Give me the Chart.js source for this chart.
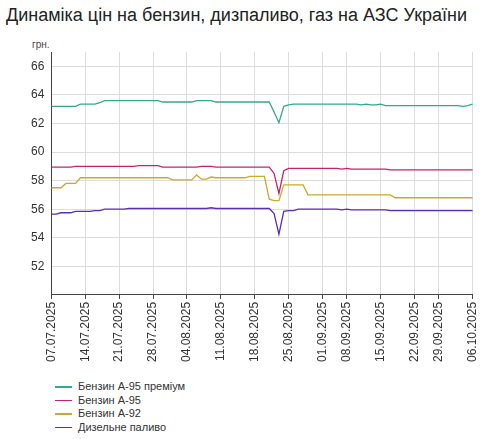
<!DOCTYPE html>
<html><head><meta charset="utf-8">
<script src="https://cdn.jsdelivr.net/npm/chart.js@4"></script>
<style>
body{margin:0;background:#fff;font-family:"Liberation Sans",Arial,sans-serif;}
#wrap{position:relative;width:490px;height:439px;}
#title{position:absolute;left:6px;top:5px;font-size:18px;color:#222;}
#unit{position:absolute;left:32px;top:39px;font-size:10px;color:#444;}
#cv{position:absolute;left:0;top:30px;}
#legend{position:absolute;left:55px;top:380px;font-size:11px;color:#333;line-height:13.5px;}
#legend span.l{display:inline-block;width:17px;height:1.5px;margin-right:6px;vertical-align:middle;}
</style></head>
<body><div id="wrap">
<div id="title">Динаміка цін на бензин, дизпаливо, газ на АЗС України</div>
<div id="unit">грн.</div>
<canvas id="cv" width="490" height="335"></canvas>
<div id="legend"></div>
</div>
<script>
// дні без даних (вихідні), решта — щоденно з 07.07.2025 по 06.10.2025
const skipDays = ['06.09', '07.09', '27.09', '28.09'];
const tickLabels = ['07.07.2025','14.07.2025','21.07.2025','28.07.2025','04.08.2025','11.08.2025','18.08.2025','25.08.2025','01.09.2025','08.09.2025','15.09.2025','22.09.2025','29.09.2025','06.10.2025'];
const seriesNames = ['Бензин А-95 преміум', 'Бензин А-95', 'Бензин А-92', 'Дизельне паливо'];
const seriesColors = ['#35a88c', '#c2246a', '#c9a92e', '#5a2fb0'];

const a95p = [63.2,63.2,63.2,63.2,63.2,63.2,63.35,63.35,63.35,63.35,63.45,63.6,63.6,63.6,63.6,63.6,63.6,63.6,63.6,63.6,63.6,63.6,63.6,63.5,63.5,63.5,63.5,63.5,63.5,63.5,63.6,63.6,63.6,63.6,63.5,63.5,63.5,63.5,63.5,63.5,63.5,63.5,63.5,63.5,63.5,63.5,62.8,62.05,63.2,63.3,63.35,63.35,63.35,63.35,63.35,63.35,63.35,63.35,63.35,63.35,63.35,63.35,63.35,63.35,63.3,63.35,63.3,63.3,63.35,63.25,63.25,63.25,63.25,63.25,63.25,63.25,63.25,63.25,63.25,63.25,63.25,63.25,63.25,63.25,63.25,63.2,63.25,63.35];
const a95 = [58.95,58.95,58.95,58.95,58.95,59.0,59.0,59.0,59.0,59.0,59.0,59.0,59.0,59.0,59.0,59.0,59.0,59.0,59.05,59.05,59.05,59.05,59.05,58.95,58.95,58.95,58.95,58.95,58.95,58.95,58.95,59.0,59.0,59.0,58.95,58.95,58.95,58.95,58.95,58.95,58.95,58.95,58.95,58.95,58.95,58.95,58.5,57.1,58.7,58.85,58.85,58.85,58.85,58.85,58.85,58.85,58.85,58.85,58.85,58.85,58.8,58.85,58.8,58.8,58.8,58.8,58.8,58.8,58.8,58.8,58.75,58.75,58.75,58.75,58.75,58.75,58.75,58.75,58.75,58.75,58.75,58.75,58.75,58.75,58.75,58.75,58.75,58.75];
const a92 = [57.5,57.5,57.5,57.8,57.8,57.8,58.2,58.2,58.2,58.2,58.2,58.2,58.2,58.2,58.2,58.2,58.2,58.2,58.2,58.2,58.2,58.2,58.2,58.2,58.2,58.05,58.05,58.05,58.05,58.05,58.4,58.1,58.1,58.25,58.2,58.2,58.2,58.2,58.2,58.2,58.2,58.3,58.3,58.3,58.3,56.7,56.6,56.6,57.7,57.7,57.7,57.7,57.7,57.0,57.0,57.0,57.0,57.0,57.0,57.0,57.0,57.0,57.0,57.0,57.0,57.0,57.0,57.0,57.0,57.0,57.0,56.8,56.8,56.8,56.8,56.8,56.8,56.8,56.8,56.8,56.8,56.8,56.8,56.8,56.8,56.8,56.8,56.8];
const diesel = [55.65,55.65,55.75,55.75,55.75,55.85,55.85,55.85,55.85,55.9,55.9,56.0,56.0,56.0,56.0,56.0,56.05,56.05,56.05,56.05,56.05,56.05,56.05,56.05,56.05,56.05,56.05,56.05,56.05,56.05,56.05,56.05,56.05,56.1,56.05,56.05,56.05,56.05,56.05,56.05,56.05,56.05,56.05,56.05,56.05,56.05,55.7,54.25,55.85,55.9,55.9,56.0,56.0,56.0,56.0,56.0,56.0,56.0,56.0,56.0,55.95,56.0,55.95,55.95,55.95,55.95,55.95,55.95,55.95,55.95,55.9,55.9,55.9,55.9,55.9,55.9,55.9,55.9,55.9,55.9,55.9,55.9,55.9,55.9,55.9,55.9,55.9,55.9];

function buildDates() {
    const out = [];
    const d = new Date(2025, 6, 7);
    const end = new Date(2025, 9, 6);
    while (d <= end) {
        const dd = String(d.getDate()).padStart(2, '0');
        const mm = String(d.getMonth() + 1).padStart(2, '0');
        if (!skipDays.includes(dd + '.' + mm)) out.push(dd + '.' + mm + '.2025');
        d.setDate(d.getDate() + 1);
    }
    return out;
}
const labels = buildDates();
const allSeries = [a95p, a95, a92, diesel];

// легенда
const legend = document.getElementById('legend');
seriesNames.forEach((n, i) => {
    const div = document.createElement('div');
    div.innerHTML = `<span class="l" style="background:${seriesColors[i]}"></span>${n}`;
    legend.appendChild(div);
});

new Chart(document.getElementById('cv'), {
    type: 'line',
    data: {
        labels: labels,
        datasets: allSeries.map((s, i) => ({
            label: seriesNames[i],
            data: s,
            borderColor: seriesColors[i],
            borderWidth: 1.3,
            pointRadius: 0,
            tension: 0
        }))
    },
    options: {
        responsive: false,
        animation: false,
        layout: { padding: { left: 28, right: 8, top: 22 } },
        plugins: { legend: { display: false }, tooltip: { enabled: false } },
        scales: {
            x: {
                offset: false,
                border: { color: '#444' },
                grid: {
                    color: c => tickLabels.includes(labels[c.index]) ? '#dcdcdc' : 'rgba(0,0,0,0)',
                    tickColor: c => tickLabels.includes(labels[c.index]) ? '#444' : 'rgba(0,0,0,0)',
                    tickLength: 4
                },
                ticks: {
                    autoSkip: false, minRotation: 90, maxRotation: 90,
                    color: '#333', font: { size: 12, family: 'Liberation Sans' },
                    callback: function (v, i) { return tickLabels.includes(labels[i]) ? labels[i] : ''; }
                }
            },
            y: {
                min: 50, max: 67,
                border: { color: '#444' },
                afterBuildTicks: ax => { ax.ticks = [50,52,54,56,58,60,62,64,66,67].map(v => ({ value: v })); },
                grid: {
                    color: c => (c.tick && c.tick.value > 50 && c.tick.value < 67) ? '#dcdcdc' : 'rgba(0,0,0,0)',
                    tickLength: 4, tickColor: 'rgba(0,0,0,0)'
                },
                ticks: {
                    color: '#333', font: { size: 12, family: 'Liberation Sans' },
                    callback: v => (v > 50 && v < 67) ? v : ''
                }
            }
        }
    }
});
</script>
</body></html>
